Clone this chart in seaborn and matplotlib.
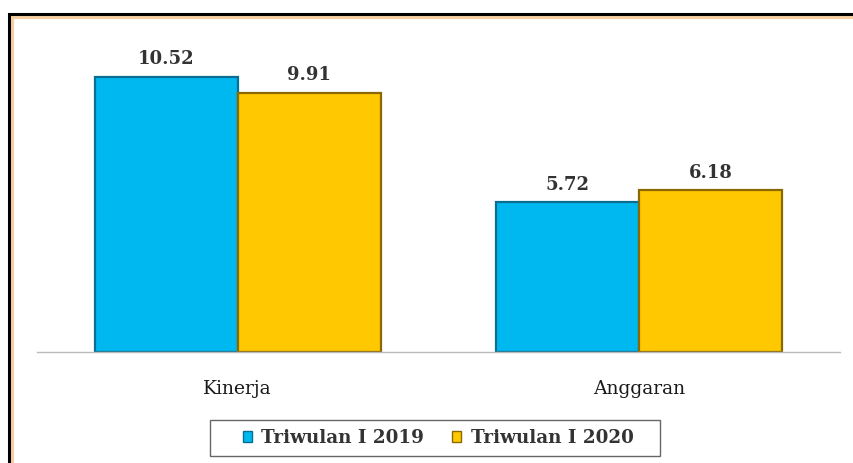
import matplotlib
matplotlib.use("Agg")
import matplotlib.pyplot as plt
from matplotlib.patches import Rectangle
import seaborn as sns
import pandas as pd

categories = ["Kinerja", "Anggaran"]
series_names = ["Triwulan I 2019", "Triwulan I 2020"]
values_2019 = [10.52, 5.72]
values_2020 = [9.91, 6.18]
colors = ["#00B8F0", "#FFC800"]
edge_colors = ["#0A6E92", "#8A6A00"]

df = pd.DataFrame({
    "Kategori": categories * 2,
    "Periode": [series_names[0]] * 2 + [series_names[1]] * 2,
    "Nilai": values_2019 + values_2020,
})

sns.set_theme(style="white")
plt.rcParams["font.family"] = ["DejaVu Serif"]

fig = plt.figure(figsize=(8.54, 4.63), dpi=100)
ax = fig.add_axes([0.0433, 0.2397, 0.9403, 0.6783])

sns.barplot(data=df, x="Kategori", y="Nilai", hue="Periode",
            palette=colors, width=0.713, ax=ax, legend=True,
            saturation=1)

for i, cont in enumerate(ax.containers):
    for bar in cont:
        bar.set_edgecolor(edge_colors[i])
        bar.set_linewidth(1.6)
    ax.bar_label(cont, labels=[f"{v:.2f}" for v in cont.datavalues],
                 padding=6, fontsize=13, fontweight="bold", color="#333333")

ax.set_xlim(-0.5, 1.5)
ax.set_ylim(0, 12)
ax.set_xlabel("")
ax.set_ylabel("")
ax.set_yticks([])
ax.tick_params(axis="x", length=0, pad=20, labelsize=13.5)
for lab in ax.get_xticklabels():
    lab.set_color("#1A1A1A")
for s in ["top", "right", "left"]:
    ax.spines[s].set_visible(False)
ax.spines["bottom"].set_color("#BBBBBB")
ax.spines["bottom"].set_linewidth(1)

leg = ax.legend(loc="center", bbox_to_anchor=(438 / 854, 1 - 438 / 463),
                bbox_transform=fig.transFigure, ncol=2, frameon=False,
                handlelength=0.5, handleheight=0.5,
                handletextpad=0.5, columnspacing=1.55, borderpad=0.3,
                borderaxespad=0, prop={"weight": "bold", "size": 13.2})
for t in leg.get_texts():
    t.set_color("#333333")
for h, ec in zip(leg.legend_handles, edge_colors):
    h.set_edgecolor(ec)

# legend frame
fig.patches.append(Rectangle((210 / 854, 1 - 456 / 463), 450 / 854, 36 / 463,
                             transform=fig.transFigure, fill=False,
                             edgecolor="#666666", linewidth=1.0, zorder=1))

# figure border
fig.patches.append(Rectangle((12 / 854, -0.1), 1.2, (463 - 17) / 463 + 0.1,
                             transform=fig.transFigure, fill=False,
                             edgecolor="#F5CFA0", linewidth=3, zorder=0))
fig.patches.append(Rectangle((9 / 854, -0.1), 1.2, (463 - 14) / 463 + 0.1,
                             transform=fig.transFigure, fill=False,
                             edgecolor="black", linewidth=2.2, zorder=1))

fig.savefig("out.png", dpi=100)
